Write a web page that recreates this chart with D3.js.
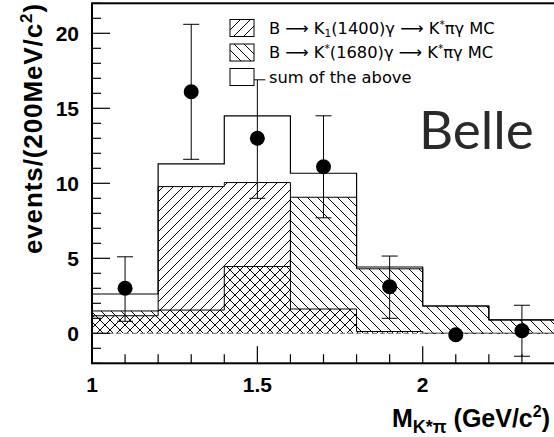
<!DOCTYPE html>
<html><head><meta charset="utf-8">
<script src="https://cdn.jsdelivr.net/npm/d3@7"></script>
<style>body{margin:0;background:#fff}svg{display:block}</style>
</head><body>
<script>
// ---- data ----
const binEdges = [1.0, 1.2, 1.4, 1.6, 1.8, 2.0, 2.2, 2.4];
const k1400 = [1.17, 9.78, 10.05, 1.62, 0.12, 0, 0];
const k1680 = [1.49, 1.55, 4.45, 9.07, 4.30, 1.82, 0.89];
const sumMC = [2.62, 11.30, 14.50, 10.67, 4.42, 1.82, 0.89];
const dataX = [1.1, 1.3, 1.5, 1.7, 1.9, 2.1, 2.3];
const dataY = [3.0, 16.1, 13.0, 11.1, 3.1, -0.1, 0.17];
const errLo = [2.2, 4.5, 4.0, 3.4, 2.1, 0, 1.7];
const errHi = [2.1, 4.5, 3.9, 3.4, 2.05, 0, 1.7];
const xTicksMajor = [1, 1.5, 2];
const xTickLabels = ["1", "1.5", "2"];
const yTicksMajor = [0, 5, 10, 15, 20];
const yTickLabels = ["0", "5", "10", "15", "20"];

const W = 554, H = 437;
const svg = d3.select("body").append("svg").attr("width", W).attr("height", H);
const x = d3.scaleLinear().domain([1, 2.4]).range([92, 555]);
const y = d3.scaleLinear().domain([-2, 22]).range([363.3, 3.3]);

const defs = svg.append("defs");
function hatch(id, d) {
  const p = defs.append("pattern").attr("id", id).attr("patternUnits", "userSpaceOnUse")
    .attr("width", 10).attr("height", 10);
  p.append("path").attr("d", d).attr("stroke", "#000").attr("stroke-width", 1).attr("fill", "none");
}
hatch("fwd", "M0,10 L10,0 M-3,3 L3,-3 M7,13 L13,7");
hatch("back", "M0,0 L10,10 M-3,7 L3,13 M7,-3 L13,3");
defs.append("clipPath").attr("id", "frame").append("rect")
  .attr("x", x(1)).attr("y", y(22)).attr("width", x(2.4) - x(1)).attr("height", y(-2) - y(22));

function stepPath(vals) {
  const p = d3.path();
  p.moveTo(x(binEdges[0]), y(0));
  vals.forEach((v, i) => { p.lineTo(x(binEdges[i]), y(v)); p.lineTo(x(binEdges[i + 1]), y(v)); });
  p.lineTo(x(binEdges[binEdges.length - 1]), y(0));
  return p.toString();
}

const g = svg.append("g").attr("clip-path", "url(#frame)");
g.append("path").attr("d", stepPath(k1680)).attr("fill", "url(#back)").attr("stroke", "#000").attr("stroke-width", 1);
g.append("path").attr("d", stepPath(k1400)).attr("fill", "url(#fwd)").attr("stroke", "#000").attr("stroke-width", 1);
g.append("path").attr("d", stepPath(sumMC)).attr("fill", "none").attr("stroke", "#000").attr("stroke-width", 1.2);
g.append("line").attr("x1", x(1)).attr("x2", x(2.4)).attr("y1", y(0)).attr("y2", y(0))
  .attr("stroke", "#888").attr("stroke-width", 1.2).attr("stroke-dasharray", "5,3");

// data points
const pts = g.append("g");
dataX.forEach((xv, i) => {
  if (errLo[i] > 0 || errHi[i] > 0) {
    const y0 = y(dataY[i] - errLo[i]), y1 = y(dataY[i] + errHi[i]);
    pts.append("line").attr("x1", x(xv)).attr("x2", x(xv)).attr("y1", y0).attr("y2", y1).attr("stroke", "#000");
    [y0, y1].forEach(yy => pts.append("line").attr("x1", x(xv) - 8).attr("x2", x(xv) + 8)
      .attr("y1", yy).attr("y2", yy).attr("stroke", "#000"));
  }
  pts.append("circle").attr("cx", x(xv)).attr("cy", y(dataY[i])).attr("r", 7.5).attr("fill", "#000");
});

// frame
svg.append("rect").attr("x", x(1)).attr("y", y(22)).attr("width", x(2.4) - x(1)).attr("height", y(-2) - y(22))
  .attr("fill", "none").attr("stroke", "#000").attr("stroke-width", 2);

// ticks
const ax = svg.append("g").attr("stroke", "#000").attr("stroke-width", 1.2);
d3.range(10, 24).map(v => v / 10).forEach(v => {
  const major = xTicksMajor.some(m => Math.abs(m - v) < 1e-6);
  ax.append("line").attr("x1", x(v)).attr("x2", x(v)).attr("y1", y(-2)).attr("y2", y(-2) - (major ? 17 : 9));
});
d3.range(-2, 23).forEach(v => {
  const major = yTicksMajor.includes(v);
  ax.append("line").attr("x1", x(1)).attr("x2", x(1) + (major ? 18 : 9)).attr("y1", y(v)).attr("y2", y(v));
});

const lab = svg.append("g").attr("font-family", "Liberation Sans, Arial, sans-serif").attr("font-weight", "bold").attr("font-size", 21);
xTicksMajor.forEach((v, i) => lab.append("text").attr("x", x(v)).attr("y", 392).attr("text-anchor", "middle").text(xTickLabels[i]));
yTicksMajor.forEach((v, i) => lab.append("text").attr("x", 79).attr("y", y(v) + 8).attr("text-anchor", "end").text(yTickLabels[i]));

// axis titles
const xt = lab.append("text").attr("x", 550).attr("y", 427).attr("text-anchor", "end").attr("font-size", 25);
xt.append("tspan").text("M");
xt.append("tspan").attr("font-size", 18).attr("dy", 6).text("K*π");
xt.append("tspan").attr("dy", -6).text(" (GeV/c");
xt.append("tspan").attr("font-size", 16).attr("dy", -10).text("2");
xt.append("tspan").attr("dy", 10).text(")");

const yt = lab.append("text").attr("transform", "translate(42,3) rotate(-90)").attr("text-anchor", "end")
  .attr("font-size", 26).attr("letter-spacing", 0.9);
yt.append("tspan").text("events/(200MeV/c");
yt.append("tspan").attr("font-size", 17).attr("dy", -10).text("2");
yt.append("tspan").attr("dy", 10).text(")");

// legend
const lg = svg.append("g").attr("font-family", "DejaVu Sans, sans-serif").attr("font-size", 16.3);
const rows = [
  {fill: "url(#fwd)", parts: [["B ⟶ K", 0], ["1", 1], ["(1400)γ ⟶ K", 0], ["*", -1], ["πγ MC", 0]]},
  {fill: "url(#back)", parts: [["B ⟶ K", 0], ["*", -1], ["(1680)γ ⟶ K", 0], ["*", -1], ["πγ MC", 0]]},
  {fill: "#fff", parts: [["sum of the above", 0]]}
];
rows.forEach((r, i) => {
  const top = 19.5 + i * 24.5;
  lg.append("rect").attr("x", 230).attr("y", top).attr("width", 24).attr("height", 17)
    .attr("fill", r.fill).attr("stroke", "#000").attr("stroke-width", 1);
  const t = lg.append("text").attr("x", 269).attr("y", top + 14);
  let cur = 0;
  r.parts.forEach(([s, k]) => {
    const target = k === 1 ? 3 : (k === -1 ? -6 : 0);
    const ts = t.append("tspan").attr("dy", target - cur).text(s);
    if (k !== 0) ts.attr("font-size", 10.5);
    cur = target;
  });
});

svg.append("text").attr("x", 419).attr("y", 149).attr("font-family", "Lato, DejaVu Sans, sans-serif")
  .attr("font-size", 53).attr("font-weight", 400).attr("fill", "#2a2a2a").text("Belle");
</script>
</body></html>
